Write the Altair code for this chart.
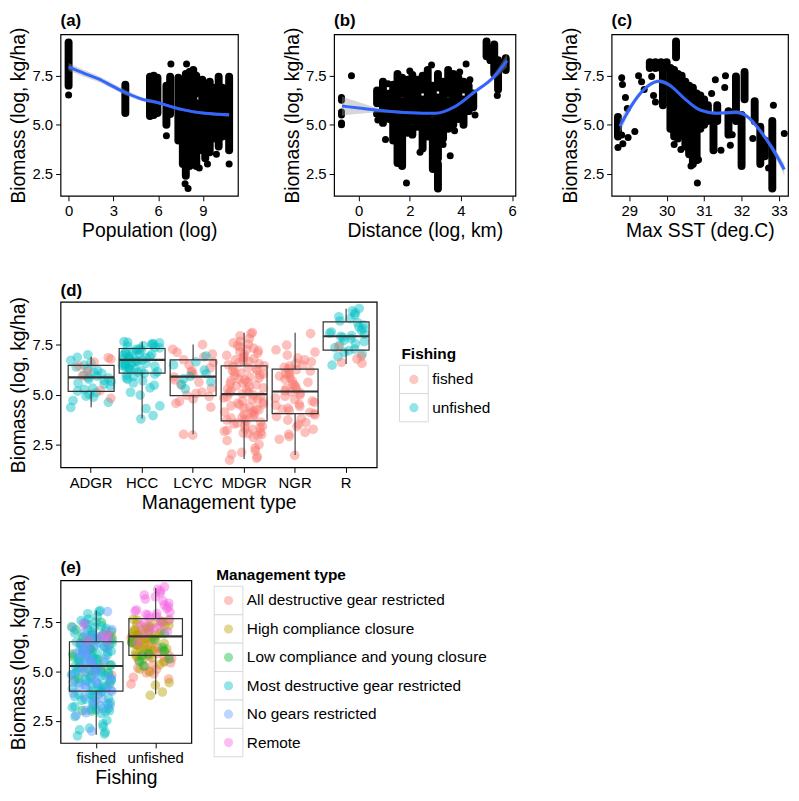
import altair as alt
import pandas as pd

FONT = "Liberation Sans"
Y_DOMAIN = [1.38, 9.62]
Y_TICKS = [2.5, 5.0, 7.5]
Y_TITLE = "Biomass (log, kg/ha)"

# ---------------- panel (a): Population (log) ----------------
# dense vertical stacks of sites (x, lowest y, highest y) and isolated sites
a_run_x  = [0.0, 3.8, 5.45, 5.7, 5.95, 6.55, 6.8, 7.35, 7.65, 7.85, 7.85, 8.1, 8.35, 8.55, 8.55, 8.95, 9.15, 9.45, 9.7, 10.05, 10.3, 10.75]
a_run_lo = [7.0, 5.6, 5.45, 5.5, 5.6, 5.0, 5.55, 4.2, 3.0, 2.4, 5.6, 2.9, 3.3, 2.9, 6.6, 3.7, 3.3, 3.6, 4.3, 3.9, 4.4, 3.7]
a_run_hi = [9.2, 7.05, 7.45, 7.5, 7.4, 7.0, 7.45, 7.4, 7.1, 5.2, 7.6, 7.7, 7.8, 6.1, 7.5, 7.3, 6.8, 7.2, 6.9, 7.45, 6.9, 7.45]
a_pt_x = [0.0, 6.55, 6.85, 7.9, 7.8, 8.0, 10.75, 9.3, 8.75, 9.9]
a_pt_y = [6.52, 4.45, 8.1, 8.1, 2.0, 1.75, 3.0, 3.0, 2.8, 3.5]
a_fit_x  = [0, 1, 2, 3, 3.8, 5, 6, 7, 7.8, 9, 10, 10.75]
a_fit_y  = [7.96, 7.64, 7.34, 6.95, 6.65, 6.29, 6.13, 5.9, 5.75, 5.6, 5.54, 5.51]
a_fit_lo = [7.76, 7.47, 7.19, 6.81, 6.51, 6.19, 6.05, 5.83, 5.68, 5.53, 5.46, 5.41]
a_fit_hi = [8.16, 7.81, 7.49, 7.09, 6.79, 6.39, 6.21, 5.97, 5.82, 5.67, 5.62, 5.61]

# ---------------- panel (b): Distance (log, km) ----------------
b_run_x  = [0.72, 0.95, 1.2, 1.35, 1.52, 1.7, 1.7, 1.9, 2.1, 2.1, 2.3, 2.5, 2.5, 2.7, 2.9, 2.9, 3.1, 3.1, 3.1,
            3.3, 3.5, 3.5, 3.7, 3.9, 4.1, 4.1, 4.3, 4.48, 5.0, 5.15, 5.3, 5.45, 5.75]
b_run_lo = [6.1, 5.1, 5.3, 4.2, 3.05, 2.9, 6.6, 4.6, 5.2, 4.5, 4.9, 3.8, 6.8, 4.4, 2.75, 5.6, 1.75, 3.3, 6.9,
            4.3, 4.8, 6.6, 5.0, 5.3, 5.0, 6.8, 5.7, 5.9, 8.5, 8.3, 7.6, 6.8, 7.8]
b_run_hi = [6.75, 7.2, 6.6, 7.05, 7.6, 6.2, 7.4, 7.3, 7.55, 4.8, 7.3, 6.3, 7.5, 7.8, 5.2, 7.0, 3.0, 6.4, 7.6,
            7.2, 6.2, 7.8, 7.6, 7.4, 6.3, 7.2, 7.0, 6.6, 9.25, 8.9, 9.1, 8.3, 8.4]
b_pt_x = [-0.67, -0.67, -0.67, -0.67, -0.67, -0.67, -0.28, 0.7, 0.75, 1.05, 1.87, 2.4, 3.3, 3.58, 3.75, 4.2,
          4.55, 5.42, 1.15, 2.0, 2.85, 3.95, 4.35]
b_pt_y = [6.4, 6.25, 5.65, 5.5, 5.1, 5.0, 7.5, 5.55, 5.25, 4.25, 2.04, 3.6, 4.0, 3.43, 4.7, 8.1,
          5.5, 6.5, 7.1, 7.75, 8.05, 7.7, 7.3]
b_fit_x  = [-0.65, 0.0, 0.7, 1.5, 2.0, 3.0, 3.75, 4.5, 5.3, 5.8]
b_fit_y  = [5.96, 5.86, 5.75, 5.66, 5.62, 5.59, 5.92, 6.65, 7.47, 8.28]
b_fit_lo = [5.47, 5.56, 5.63, 5.59, 5.56, 5.53, 5.85, 6.55, 7.32, 7.95]
b_fit_hi = [6.45, 6.16, 5.87, 5.73, 5.68, 5.65, 5.99, 6.75, 7.62, 8.61]

# ---------------- panel (c): Max SST (deg.C) ----------------
c_run_x  = [28.7, 29.55, 29.7, 29.85, 30.0, 30.25, 29.9, 30.1, 30.2, 30.3, 30.4, 30.5, 30.6, 30.7, 30.8, 30.9, 31.0, 31.1,
            31.25, 31.35, 31.65, 31.85, 32.0, 32.08, 32.35, 32.5, 32.62, 32.82]
c_run_lo = [4.4, 7.9, 7.9, 7.9, 7.9, 8.45, 6.0, 4.8, 4.4, 4.3, 4.5, 3.9, 3.5, 3.0, 3.2, 4.8, 5.0, 5.2,
            3.7, 5.2, 4.5, 5.2, 2.9, 6.3, 5.2, 3.0, 3.4, 1.75]
c_run_hi = [5.4, 8.2, 8.2, 8.2, 8.2, 9.25, 7.9, 7.9, 7.8, 7.6, 7.5, 7.2, 7.0, 6.9, 6.6, 6.5, 6.3, 6.0,
            5.4, 6.0, 5.7, 7.47, 5.5, 7.7, 6.2, 4.9, 4.2, 5.2]
c_pt_x = [28.7, 28.8, 28.82, 28.8, 28.83, 28.9, 28.95, 28.97, 29.15, 29.25, 29.33, 29.6, 29.65, 29.7, 29.4,
          30.2, 30.38, 30.65, 30.82, 30.85, 31.3, 31.2, 31.57, 31.55, 31.7, 32.3, 32.72, 33.14, 32.85, 31.45, 31.75]
c_pt_y = [3.84, 7.4, 7.06, 4.48, 4.04, 6.4, 5.83, 4.36, 4.66, 7.5, 7.2, 7.47, 6.5, 6.16, 6.8,
          4.0, 3.74, 2.9, 2.04, 3.22, 7.3, 6.6, 7.5, 6.9, 3.96, 4.3, 2.8, 4.56, 6.0, 3.7, 4.5]
c_fit_x  = [28.75, 29.15, 29.5, 29.8, 30.05, 30.5, 30.9, 31.35, 31.85, 32.15, 32.5, 32.85, 33.14]
c_fit_y  = [4.93, 6.24, 6.98, 7.22, 7.06, 6.3, 5.75, 5.59, 5.64, 5.43, 4.69, 3.71, 2.72]
c_fit_lo = [4.58, 6.09, 6.88, 7.12, 6.96, 6.22, 5.67, 5.51, 5.54, 5.33, 4.56, 3.53, 2.42]
c_fit_hi = [5.28, 6.39, 7.08, 7.32, 7.16, 6.38, 5.83, 5.67, 5.74, 5.53, 4.82, 3.89, 3.02]

# ---------------- panels (d), (e): site biomass by management / fishing ----------------
MGMT = ["ADGR", "HCC", "LCYC", "MDGR", "NGR", "R"]
MGMT_NAMES = ["All destructive gear restricted", "High compliance closure",
              "Low compliance and young closure", "Most destructive gear restricted",
              "No gears restricted", "Remote"]
MGMT_COLORS = ["#F8766D", "#B79F00", "#00BA38", "#00BFC4", "#619CFF", "#F564E3"]
FISHING = ["fished", "unfished"]
FISHING_COLORS = ["#F8766D", "#00BFC4"]

adgr_unfished = [4.36, 4.62, 4.71, 4.88, 4.93, 5.02, 5.11, 5.18, 5.27, 5.33, 5.44, 5.52, 5.58, 5.66, 5.71,
                 5.77, 5.83, 5.86, 5.92, 5.97, 6.06, 6.13, 6.21, 6.29, 6.38, 6.47, 6.58, 6.71, 6.86, 6.98]
adgr_fished = [4.82, 5.21, 5.94, 6.17, 6.43, 6.62, 6.77, 6.84]
hcc_unfished = [3.79, 3.96, 4.31, 4.44, 4.98, 5.12, 5.34, 5.47, 5.58, 5.69, 5.76, 5.84, 5.91, 5.97, 6.02,
                6.06, 6.11, 6.14, 6.19, 6.23, 6.27, 6.31, 6.34, 6.38, 6.42, 6.45, 6.49, 6.52, 6.56, 6.59,
                6.63, 6.66, 6.69, 6.72, 6.74, 6.77, 6.81, 6.84, 6.87, 6.91, 6.93, 6.97, 7.01, 7.04, 7.07,
                7.12, 7.15, 7.18, 7.22, 7.26, 7.29, 7.33, 7.36, 7.41, 7.44, 7.48, 7.52, 7.55, 7.58, 7.61, 7.64]
lcyc_fished = [2.99, 3.02, 4.38, 4.57, 4.66, 4.79, 4.91, 4.97, 5.06, 5.13, 5.31, 5.48, 5.62, 5.74, 5.88,
               6.01, 6.12, 6.19, 6.33, 6.47, 6.61, 6.74, 6.88, 7.02, 7.11, 7.26, 7.49]
lcyc_unfished = [5.29, 5.52, 5.64, 5.79, 5.91, 6.04, 6.22, 6.48, 6.63, 6.92]
mdgr_fished = [1.74, 1.83, 1.92, 2.04, 2.13, 2.21, 2.34, 2.52, 2.71, 2.88, 2.97, 3.01, 3.06, 3.09, 3.14,
               3.18, 3.22, 3.27, 3.31, 3.36, 3.42, 3.48, 3.54, 3.59, 3.64, 3.69, 3.74, 3.79, 3.83, 3.88,
               3.94, 3.99, 4.03, 4.09, 4.14, 4.18, 4.24, 4.29, 4.33, 4.38, 4.44, 4.49, 4.53, 4.58, 4.63,
               4.69, 4.74, 4.78, 4.84, 4.89, 4.93, 4.99, 5.04, 5.09, 5.13, 5.19, 5.24, 5.28, 5.34, 5.39,
               5.43, 5.49, 5.54, 5.58, 5.63, 5.69, 5.73, 5.79, 5.83, 5.88, 5.94, 5.98, 6.03, 6.08, 6.13,
               6.18, 6.22, 6.28, 6.33, 6.39, 6.44, 6.49, 6.53, 6.58, 6.64, 6.69, 6.73, 6.79, 6.84, 6.89,
               6.96, 7.01, 7.07, 7.13, 7.19, 7.24, 7.32, 7.38, 7.44, 7.51, 7.58, 7.66, 7.79, 7.93, 8.04, 8.09]
ngr_fished = [1.98, 2.78, 2.91, 3.03, 3.12, 3.28, 3.41, 3.52, 3.61, 3.73, 3.82, 3.91, 3.99, 4.06, 4.12,
              4.19, 4.27, 4.33, 4.41, 4.47, 4.53, 4.62, 4.68, 4.76, 4.83, 4.92, 4.99, 5.08, 5.14, 5.19,
              5.26, 5.31, 5.38, 5.47, 5.53, 5.61, 5.68, 5.77, 5.84, 5.92, 5.98, 6.04, 6.11, 6.18, 6.24,
              6.29, 6.36, 6.42, 6.47, 6.56, 6.63, 6.74, 6.82, 6.97, 7.12, 7.23, 7.47, 8.04]
r_unfished = [6.47, 6.89, 7.02, 7.11, 7.19, 7.27, 7.34, 7.46, 7.53, 7.64, 7.71, 7.79, 7.86, 7.9, 7.94,
              8.01, 8.06, 8.12, 8.19, 8.28, 8.37, 8.46, 8.58, 8.67, 8.79, 8.88, 8.97, 9.08, 9.17, 9.29]
r_fished = [6.56, 6.61, 6.78, 6.91, 7.38]

# box summaries: lower whisker, Q1, median, Q3, upper whisker
d_lo  = [4.38, 3.82, 3.03, 1.80, 2.00, 6.53]
d_q1  = [5.16, 6.07, 4.95, 3.70, 4.06, 7.22]
d_med = [5.86, 6.73, 5.90, 5.03, 5.16, 7.91]
d_q3  = [6.46, 7.30, 6.73, 6.43, 6.27, 8.62]
d_hi  = [6.89, 7.63, 7.50, 8.08, 8.08, 9.28]

e_lo  = [1.79, 3.85]
e_q1  = [4.01, 5.82]
e_med = [5.28, 6.78]
e_q3  = [6.51, 7.68]
e_hi  = [8.09, 9.24]

# ---------------- tables ----------------
groups = [("ADGR", "unfished", adgr_unfished), ("ADGR", "fished", adgr_fished),
          ("HCC", "unfished", hcc_unfished),
          ("LCYC", "fished", lcyc_fished), ("LCYC", "unfished", lcyc_unfished),
          ("MDGR", "fished", mdgr_fished), ("NGR", "fished", ngr_fished),
          ("R", "unfished", r_unfished), ("R", "fished", r_fished)]
rows = []
for mg, fi, vals in groups:
    for v in vals:
        rows.append({"mgmt": mg, "fishing": fi, "biomass": v})
obs = pd.DataFrame(rows)
obs["idx"] = range(len(obs))

d_summ = pd.DataFrame({"mgmt": MGMT, "lo": d_lo, "q1": d_q1, "med": d_med, "q3": d_q3, "hi": d_hi})
e_summ = pd.DataFrame({"fishing": FISHING, "lo": e_lo, "q1": e_q1, "med": e_med, "q3": e_q3, "hi": e_hi})

JIT = ("(sin(datum.idx * 12.9898) * 43758.5453 - floor(sin(datum.idx * 12.9898) * 43758.5453) - 0.5) * 0.8")


def yenc(field):
    return alt.Y(f"{field}:Q", scale=alt.Scale(domain=Y_DOMAIN, nice=False, zero=False),
                 axis=alt.Axis(values=Y_TICKS, format=".1f", title=Y_TITLE))


def scatter_panel(tag, xtitle, xdomain, xticks, rx, rlo, rhi, px, py, fx, fy, flo, fhi, width, height):
    runs = pd.DataFrame({"x": rx, "lo": rlo, "hi": rhi})
    pts = pd.DataFrame({"x": px, "y": py})
    fit = pd.DataFrame({"x": fx, "fit": fy, "lo": flo, "hi": fhi})
    xs = alt.Scale(domain=xdomain, nice=False, zero=False)

    def xenc(f):
        return alt.X(f"{f}:Q", scale=xs,
                     axis=alt.Axis(values=xticks, format="d", title=xtitle, labelFlush=False))

    r = alt.Chart(runs).mark_rule(color="black", strokeWidth=8, strokeCap="round").encode(
        x=xenc("x"), y=yenc("lo"), y2="hi:Q")
    p = alt.Chart(pts).mark_circle(color="black", size=50, opacity=1).encode(x=xenc("x"), y=yenc("y"))
    band = alt.Chart(fit).mark_area(color="#999999", opacity=0.4, interpolate="monotone").encode(
        x=xenc("x"), y=yenc("lo"), y2="hi:Q")
    line = alt.Chart(fit).mark_line(color="#3366FF", strokeWidth=3, interpolate="monotone").encode(
        x=xenc("x"), y=yenc("fit"))
    return alt.layer(r, p, band, line).properties(
        title=tag, width=width, height=height,
        view=alt.ViewBackground(stroke="black", strokeWidth=1.2))


def box_panel(tag, xfield, xdomain, xtitle, cfield, cdomain, crange, summ, width, height):
    xs = alt.Scale(domain=xdomain, paddingInner=0, paddingOuter=0.1)
    X = alt.X(f"{xfield}:N", scale=xs, axis=alt.Axis(title=xtitle, labelAngle=0))
    box_w = 0.9 * width / (len(xdomain) + 0.2)
    pts = alt.Chart(obs).transform_calculate(jit=JIT).mark_circle(size=95, opacity=0.45).encode(
        x=X,
        xOffset=alt.XOffset("jit:Q", scale=alt.Scale(domain=[-0.5, 0.5])),
        y=yenc("biomass"),
        color=alt.Color(f"{cfield}:N", scale=alt.Scale(domain=cdomain, range=crange), legend=None))
    base = alt.Chart(summ)
    w1 = base.mark_rule(color="#333333", strokeWidth=1.1).encode(x=X, y=yenc("lo"), y2="q1:Q")
    w2 = base.mark_rule(color="#333333", strokeWidth=1.1).encode(x=X, y=yenc("q3"), y2="hi:Q")
    box = base.mark_bar(width=box_w, fill="white", fillOpacity=0,
                        stroke="#333333", strokeWidth=1.2).encode(x=X, y=yenc("q1"), y2="q3:Q")
    med = base.mark_bar(width=box_w, fill="white", fillOpacity=0,
                        stroke="#333333", strokeWidth=2.2).encode(x=X, y=yenc("med"), y2="med:Q")
    return alt.layer(pts, w1, w2, box, med).properties(
        title=tag, width=width, height=height,
        view=alt.ViewBackground(stroke="black", strokeWidth=1.2))


def legend_chart(title, keys, labels, colors, height, key_range):
    df = pd.DataFrame({"key": keys, "label": labels})
    Yk = alt.Y("key:N", scale=alt.Scale(domain=keys, range=key_range, paddingInner=0, paddingOuter=0),
               axis=None)
    base = alt.Chart(df)
    boxes = base.mark_rect(fill="white", stroke="#D9D9D9", strokeWidth=1).encode(
        y=Yk, x=alt.value(0), x2=alt.value(29))
    dots = base.mark_circle(size=85, opacity=0.42).encode(
        y=Yk, x=alt.value(14.5),
        color=alt.Color("key:N", scale=alt.Scale(domain=keys, range=colors), legend=None))
    text = base.mark_text(align="left", baseline="middle", fontSize=15.5, color="black").encode(
        y=Yk, x=alt.value(33), text="label:N")
    ttl = base.transform_filter(alt.datum.key == keys[0]).mark_text(
        align="left", baseline="alphabetic", fontSize=15.5, fontWeight="bold", dy=-21, color="black").encode(
        y=Yk, x=alt.value(2), text=alt.value(title))
    return alt.layer(boxes, dots, text, ttl).properties(
        width=29, height=height, view=alt.ViewBackground(stroke="transparent"))


pa = scatter_panel("(a)", "Population (log)", [-0.54, 11.34], [0, 3, 6, 9],
                   a_run_x, a_run_lo, a_run_hi, a_pt_x, a_pt_y, a_fit_x, a_fit_y, a_fit_lo, a_fit_hi, 179, 163)
pb = scatter_panel("(b)", "Distance (log, km)", [-0.96, 6.13], [0, 2, 4, 6],
                   b_run_x, b_run_lo, b_run_hi, b_pt_x, b_pt_y, b_fit_x, b_fit_y, b_fit_lo, b_fit_hi, 183, 163)
pc = scatter_panel("(c)", "Max SST (deg.C)", [28.53, 33.24], [29, 30, 31, 32, 33],
                   c_run_x, c_run_lo, c_run_hi, c_pt_x, c_pt_y, c_fit_x, c_fit_y, c_fit_lo, c_fit_hi, 178, 163)

pdd = box_panel("(d)", "mgmt", MGMT, "Management type", "fishing", FISHING, FISHING_COLORS, d_summ, 319, 167)
pe = box_panel("(e)", "fishing", FISHING, "Fishing", "mgmt", MGMT, MGMT_COLORS, e_summ, 132, 164)

leg_d = legend_chart("Fishing", FISHING, FISHING, FISHING_COLORS, 167, [64, 121])
leg_e = legend_chart("Management type", MGMT, MGMT_NAMES, MGMT_COLORS, 178, [6, 178])

row1 = alt.hconcat(pa, pb, pc, spacing=97, bounds="flush").resolve_scale(color="independent")
row2 = alt.hconcat(pdd, leg_d, spacing=23, bounds="flush").resolve_scale(color="independent")
row3 = alt.hconcat(pe, leg_e, spacing=23, bounds="flush").resolve_scale(color="independent")

top = alt.vconcat(row1, row2, spacing=40).resolve_scale(color="independent")
chart = alt.vconcat(top, row3, spacing=46).resolve_scale(color="independent").properties(
    padding=0
).configure(font=FONT, padding=0).configure_view(stroke="transparent").configure_axis(
    labelFont=FONT, titleFont=FONT, labelFontSize=15, titleFontSize=19.5, titleFontWeight="normal",
    labelColor="black", titleColor="black", tickColor="black", tickSize=5, tickWidth=1,
    grid=False, domain=False, labelPadding=3, titlePadding=3
).configure_title(
    font=FONT, fontSize=17, fontWeight="bold", anchor="start", frame="group", offset=-3.5,
    baseline="bottom", color="black"
)

chart.save("out.html", embed_options={"renderer": "svg", "actions": False})
